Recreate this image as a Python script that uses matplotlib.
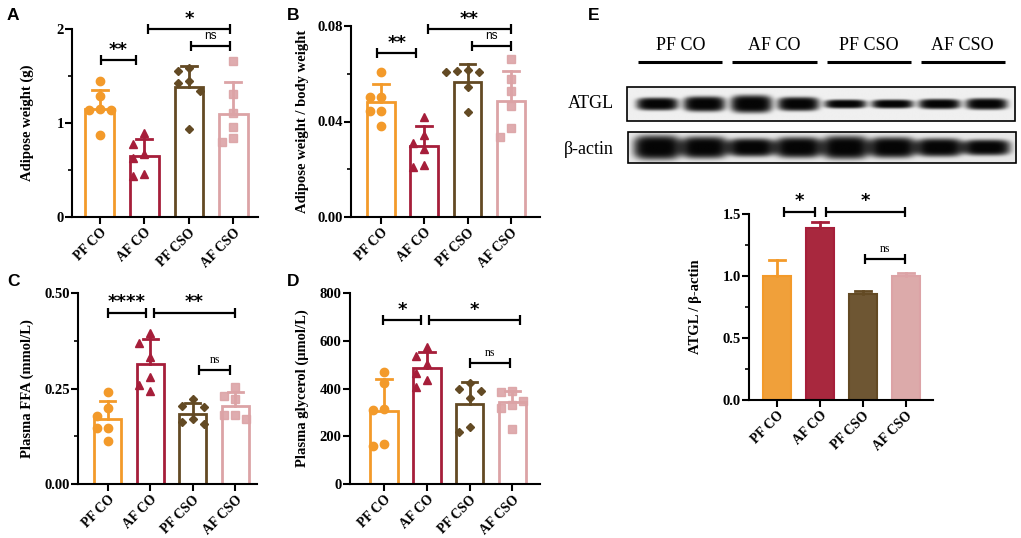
import numpy as np
import matplotlib
matplotlib.use("Agg")
import matplotlib.pyplot as plt
from matplotlib.patches import Rectangle

W, H = 1021, 538

groups = ["PF CO", "AF CO", "PF CSO", "AF CSO"]

# panel A: adipose weight (g)
a_mean = [1.15, 0.65, 1.38, 1.10]
a_sd = [0.20, 0.18, 0.23, 0.34]
a_pts = [[1.45, 1.29, 1.14, 1.15, 1.14, 0.87],
         [0.89, 0.78, 0.63, 0.67, 0.44, 0.46],
         [1.55, 1.59, 1.43, 1.45, 1.34, 0.94],
         [1.66, 1.31, 1.11, 0.96, 0.80, 0.84]]

# panel B: adipose weight / body weight
b_mean = [0.0483, 0.0298, 0.0566, 0.0485]
b_sd = [0.0076, 0.0082, 0.0073, 0.0126]
b_pts = [[0.0606, 0.0503, 0.0503, 0.0443, 0.0443, 0.0382],
         [0.0420, 0.0345, 0.0285, 0.0310, 0.0210, 0.0217],
         [0.0611, 0.0615, 0.0608, 0.0606, 0.0543, 0.0441],
         [0.0660, 0.0578, 0.0529, 0.0464, 0.0373, 0.0333]]

# panel C: plasma FFA (mmol/L)
c_mean = [0.169, 0.314, 0.183, 0.204]
c_sd = [0.047, 0.065, 0.030, 0.037]
c_pts = [[0.240, 0.200, 0.178, 0.146, 0.146, 0.113],
         [0.394, 0.370, 0.332, 0.281, 0.243, 0.259],
         [0.222, 0.201, 0.204, 0.156, 0.169, 0.161],
         [0.255, 0.231, 0.222, 0.169, 0.181, 0.181]]

# panel D: plasma glycerol (umol/L)
d_mean = [307, 487, 335, 345]
d_sd = [131, 65, 91, 45]
d_pts = [[471, 425, 310, 316, 159, 166],
         [575, 536, 501, 464, 436, 405],
         [397, 362, 425, 390, 219, 240],
         [390, 387, 331, 320, 349, 230]]

# panel E: ATGL / beta-actin
e_mean = [1.0, 1.385, 0.855, 0.998]
e_sd = [0.126, 0.050, 0.027, 0.025]

# blot band densities per lane (2 lanes per group)
atgl_band = [1.0, 1.2, 1.4, 1.1, 0.7, 0.7, 0.8, 0.9]
actin_band = [1.0, 0.9, 0.75, 0.85, 0.95, 0.85, 0.75, 0.65]

edge_cols = ["#F39A2A", "#A61E3A", "#634A24", "#DCA3A6"]
fill_cols = ["#F0A03A", "#A8283E", "#6E5633", "#DCAAAA"]
markers = ["o", "^", "D", "s"]
msizes = [6, 6, 4.5, 5.5]

SERIF = "Liberation Serif"
SANS = "Liberation Sans"

fig = plt.figure(figsize=(W / 100, H / 100), dpi=100)


def px_axes(x0, x1, ytop, ybot):
    return fig.add_axes([x0 / W, 1 - ybot / H, (x1 - x0) / W, (ybot - ytop) / H])


def swarm(vals, ypx, xpx, d=11, thr=10.5):
    vals = np.asarray(vals, float)
    offs = np.zeros(len(vals))
    placed = []
    for i in np.argsort(-vals, kind="stable"):
        for k in [0, -1, 1, -2, 2, -3, 3]:
            x = k * d
            if all((x - px) ** 2 + ((vals[i] - v) * ypx) ** 2 >= thr ** 2 for px, v in placed):
                break
        placed.append((x, vals[i]))
        offs[i] = x / xpx
    return offs


def style_axes(ax, ylim, xlim, major, minor, fmt):
    ax.set_ylim(*ylim)
    ax.set_xlim(*xlim)
    for s in ["top", "right"]:
        ax.spines[s].set_visible(False)
    for s in ["left", "bottom"]:
        ax.spines[s].set_linewidth(1.5)
    ax.set_yticks(major)
    ax.set_yticklabels([fmt.format(v) for v in major], fontfamily=SERIF,
                       fontweight="bold", fontsize=10.5)
    if minor:
        ax.set_yticks(minor, minor=True)
    ax.tick_params(axis="y", which="major", length=5, width=1.5, pad=1)
    ax.tick_params(axis="y", which="minor", length=3, width=1.2)
    ax.set_xticks(range(4))
    ax.set_xticklabels(groups, rotation=45, ha="right", va="top",
                       rotation_mode="anchor", fontfamily=SERIF,
                       fontweight="bold", fontsize=9.8)
    ax.tick_params(axis="x", length=5, width=1.5, pad=1.5)


def bracket(ax, x0, x1, y, label, sans_ns=True):
    ax.plot([x0, x1], [y, y], color="black", lw=1.6, clip_on=False,
            solid_capstyle="butt")
    ax.plot([x0, x1], [y, y], linestyle="none", marker="|", ms=7, mew=1.6,
            color="black", clip_on=False)
    if label == "ns":
        fam = SANS if sans_ns else SERIF
        ax.annotate("ns", xy=((x0 + x1) / 2, y), xytext=(0, 3),
                    textcoords="offset points", ha="center", va="bottom",
                    fontsize=8.5, fontfamily=fam, annotation_clip=False)
    else:
        ax.annotate(label, xy=((x0 + x1) / 2, y), xytext=(0, 1),
                    textcoords="offset points", ha="center", va="bottom",
                    fontsize=13, fontweight="bold", fontfamily="DejaVu Sans",
                    annotation_clip=False)


def dot_panel(box, ylim, xlim, major, minor, fmt, means, sds, pts, ylabel,
              brackets, letter, letter_xy, ylab_x, sans_ns=True):
    x0, x1, ytop, ybot = box
    ax = px_axes(x0, x1, ytop, ybot)
    style_axes(ax, ylim, xlim, major, minor, fmt)
    xs = np.arange(4)
    ax.bar(xs, means, width=0.64, color="white", edgecolor=edge_cols,
           linewidth=2, zorder=2)
    ypx = (ybot - ytop) / (ylim[1] - ylim[0])
    xpx = (x1 - x0) / (xlim[1] - xlim[0])
    for i in range(4):
        ax.plot([i, i], [means[i], means[i] + sds[i]], color=edge_cols[i],
                lw=2, zorder=3)
        ax.plot([i - 0.18, i + 0.18], [means[i] + sds[i]] * 2,
                color=edge_cols[i], lw=2, zorder=3)
        offs = swarm(pts[i], ypx, xpx)
        ax.plot(i + offs, pts[i], linestyle="none", marker=markers[i],
                ms=msizes[i], color=edge_cols[i], mec=edge_cols[i],
                alpha=0.9 if i == 3 else 1, zorder=4, clip_on=False)
    for bx0, bx1, by, lab in brackets:
        bracket(ax, bx0, bx1, by, lab, sans_ns)
    fig.text(ylab_x / W, 1 - (ytop + ybot) / 2 / H, ylabel, rotation=90,
             ha="center", va="center", fontfamily=SERIF, fontweight="bold",
             fontsize=10.5)
    fig.text(letter_xy[0] / W, 1 - letter_xy[1] / H, letter, ha="left",
             va="center", fontfamily=SANS, fontweight="bold", fontsize=12.5)
    return ax


dot_panel((72, 258, 29, 217), (0, 2), (-0.62, 3.55), [0, 1, 2], [0.5, 1.5],
          "{:g}", a_mean, a_sd, a_pts, "Adipose weight (g)",
          [(0.02, 0.81, 1.67, "**"), (1.09, 2.93, 2.0, "*"),
           (2.04, 2.93, 1.82, "ns")], "A", (7, 16), 27)

dot_panel((351, 540, 26, 217), (0, 0.08), (-0.69, 3.67), [0, 0.04, 0.08],
          [0.02, 0.06], "{:.2f}", b_mean, b_sd, b_pts,
          "Adipose weight / body weight",
          [(-0.09, 0.82, 0.0685, "**"), (1.08, 2.99, 0.0786, "**"),
           (2.11, 2.99, 0.0717, "ns")], "B", (287, 16), 302)

dot_panel((78, 257, 293, 484), (0, 0.5), (-0.7, 3.51), [0, 0.25, 0.5],
          [0.125, 0.375], "{:.2f}", c_mean, c_sd, c_pts,
          "Plasma FFA (mmol/L)",
          [(0.0, 0.91, 0.448, "****"), (1.09, 2.99, 0.448, "**"),
           (2.14, 2.88, 0.298, "ns")], "C", (7, 282), 27, sans_ns=False)

dot_panel((350, 540, 293, 484), (0, 800), (-0.8, 3.65),
          [0, 200, 400, 600, 800], None, "{:g}", d_mean, d_sd, d_pts,
          "Plasma glycerol (\u03bcmol/L)",
          [(-0.03, 0.87, 686, "*"), (1.05, 3.19, 686, "*"),
           (2.0, 2.94, 508, "ns")], "D", (287, 282), 302, sans_ns=False)

# panel E bar chart
axe = px_axes(749, 933, 214, 400)
style_axes(axe, (0, 1.5), (-0.65, 3.63), [0, 0.5, 1.0, 1.5],
           [0.25, 0.75, 1.25], "{:.1f}")
axe.bar(np.arange(4), e_mean, width=0.65, color=fill_cols,
        edgecolor=edge_cols, linewidth=1.5, zorder=2)
for i in range(4):
    axe.plot([i, i], [e_mean[i], e_mean[i] + e_sd[i]], color=edge_cols[i],
             lw=2, zorder=3)
    axe.plot([i - 0.18, i + 0.18], [e_mean[i] + e_sd[i]] * 2,
             color=edge_cols[i], lw=2, zorder=3)
for bx0, bx1, by, lab in [(0.16, 0.88, 1.52, "*"), (1.14, 2.99, 1.52, "*"),
                          (2.04, 2.99, 1.137, "ns")]:
    bracket(axe, bx0, bx1, by, lab, sans_ns=False)
fig.text(695 / W, 1 - 307 / H, "ATGL / \u03b2-actin", rotation=90,
         ha="center", va="center", fontfamily=SERIF, fontweight="bold",
         fontsize=10.5)
fig.text(588 / W, 1 - 16 / H, "E", ha="left", va="center", fontfamily=SANS,
         fontweight="bold", fontsize=12.5)

# western blot
axb = fig.add_axes([600 / W, 1 - 175 / H, 421 / W, 175 / H])
axb.set_xlim(600, 1021)
axb.set_ylim(175, 0)
axb.axis("off")

lane_x = 657 + 47 * np.arange(8)
grp_x = [(lane_x[2 * g] + lane_x[2 * g + 1]) / 2 for g in range(4)]
for g in range(4):
    axb.text(grp_x[g], 46, groups[g], ha="center", va="center",
             fontfamily=SERIF, fontsize=13)
    axb.plot([grp_x[g] - 42, grp_x[g] + 42], [62, 62], color="black", lw=2.2,
             solid_capstyle="butt")


def blot(x0, x1, y0, y1, dens, half_h, half_w, bg):
    xs = np.linspace(x0, x1, 500)
    ys = np.linspace(y0, y1, 60)
    X, Y = np.meshgrid(xs, ys)
    img = np.full(X.shape, bg)
    yc = (y0 + y1) / 2
    for k, v in enumerate(dens):
        hh = half_h * v
        r = (np.abs(X - lane_x[k]) / half_w) ** 4 + (np.abs(Y - yc) / hh) ** 3
        img = img - (bg - 0.02) * np.exp(-r ** 1.5)
    img = np.clip(img, 0, 1)
    axb.imshow(img, cmap="gray", vmin=0, vmax=1, extent=(x0, x1, y1, y0),
               origin="upper", aspect="auto", interpolation="bilinear",
               zorder=1)
    axb.add_patch(Rectangle((x0, y0), x1 - x0, y1 - y0, fill=False,
                            edgecolor="black", lw=1.2, zorder=2))


blot(627, 1015, 87, 121, atgl_band, 6.5, 21, 0.94)
blot(628, 1016, 132, 163, actin_band, 12.5, 24, 0.91)
axb.set_xlim(600, 1021)
axb.set_ylim(175, 0)
axb.text(614, 104, "ATGL", ha="right", va="center", fontfamily=SERIF,
         fontsize=13)
axb.text(614, 150, "\u03b2-actin", ha="right", va="center", fontfamily=SERIF,
         fontsize=13)

fig.savefig("out.png", dpi=100)
